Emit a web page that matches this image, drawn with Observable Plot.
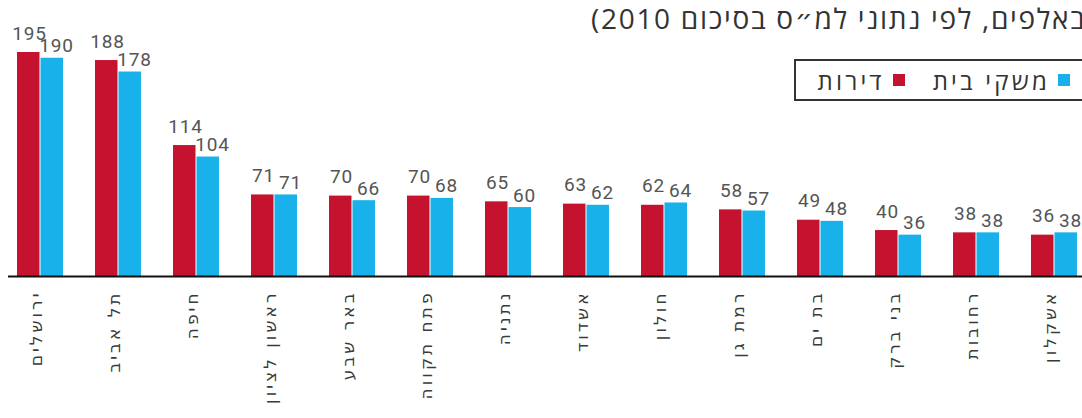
<!DOCTYPE html>
<html>
<head>
<meta charset="utf-8">
<script src="https://cdn.jsdelivr.net/npm/d3@7"></script>
<script src="https://cdn.jsdelivr.net/npm/@observablehq/plot@0.6"></script>
<style>
  html, body { margin: 0; padding: 0; background: #fff; }
  #wrap { position: relative; width: 1082px; height: 418px; overflow: hidden; }
  #subtitle {
    position: absolute; left: 591px; top: -1px; white-space: nowrap; direction: rtl;
    font-family: "Open Sans", "DejaVu Sans", sans-serif; font-size: 28px; letter-spacing: 1.7px; color: #333;
  }
  #legend {
    position: absolute; left: 794px; top: 59px; width: 274px; height: 38px;
    border: 2px solid #333; display: flex; flex-direction: row; direction: rtl;
    align-items: center; padding-right: 30px; padding-left: 0; box-sizing: content-box;
    font-family: "Open Sans", "DejaVu Sans", sans-serif; font-size: 24px; letter-spacing: 3.2px; color: #333;
  }
  #legend .sw { width: 12px; height: 12px; display: inline-block; margin-left: 8px; flex: none; }
  #legend .item { display: flex; align-items: center; margin-left: 28px; white-space: nowrap; }
  #chart { position: absolute; left: 0; top: 0; }
  #chart g[aria-label="x-axis tick label"] text { letter-spacing: 3px; }
  #chart g.vals text { letter-spacing: 0.8px; }
</style>
</head>
<body>
<div id="wrap">
  <div id="chart"></div>
  <div id="subtitle"></div>
  <div id="legend"></div>
</div>
<script>
const cities = ["ירושלים", "תל אביב", "חיפה", "ראשון לציון", "באר שבע", "פתח תקווה", "נתניה", "אשדוד", "חולון", "רמת גן", "בת ים", "בני ברק", "רחובות", "אשקלון"];
const apartments = [195, 188, 114, 71, 70, 70, 65, 63, 62, 58, 49, 40, 38, 36];
const households = [190, 178, 104, 71, 66, 68, 60, 62, 64, 57, 48, 36, 38, 38];
const seriesNames = ["משקי בית", "דירות"];
const seriesColors = ["#18b1e9", "#c5122e"];
const subtitleText = "(באלפים, לפי נתוני למ״ס בסיכום 2010)";

const RED = seriesColors[1], CYAN = seriesColors[0];
const data = cities.map((city, i) => ({city, apartments: apartments[i], households: households[i]}));

const plot = Plot.plot({
  width: 1082,
  height: 418,
  marginTop: 52,
  marginBottom: 142,
  marginLeft: 8,
  marginRight: 0,
  style: {fontFamily: "'DejaVu Sans', sans-serif", background: "transparent"},
  x: {domain: cities, range: [10, 1084], paddingInner: 0.405, paddingOuter: 0, align: 0.5},
  y: {domain: [0, 195], axis: null},
  marks: [
    Plot.barY(data, {x: "city", y: "apartments", fill: RED, insetLeft: 0, insetRight: 23.5}),
    Plot.barY(data, {x: "city", y: "households", fill: CYAN, insetLeft: 23.5, insetRight: 0}),
    Plot.text(data, {x: "city", y: "apartments", text: d => String(d.apartments), dx: -11, dy: -13,
      lineAnchor: "bottom", fontSize: 19, fill: "#555", fontFamily: "Roboto, sans-serif", className: "vals"}),
    Plot.text(data, {x: "city", y: "households", text: d => String(d.households), dx: 16, dy: -6,
      lineAnchor: "bottom", fontSize: 19, fill: "#555", fontFamily: "Roboto, sans-serif", className: "vals"}),
    Plot.ruleY([0], {stroke: "#111", strokeWidth: 2}),
    Plot.axisX({tickRotate: -90, tickSize: 0, tickPadding: 14, fontSize: 17, fill: "#3a3a3a", label: null, dx: -4})
  ]
});
document.getElementById("chart").appendChild(plot);

document.getElementById("subtitle").textContent = subtitleText;

const legend = document.getElementById("legend");
seriesNames.forEach((name, i) => {
  const item = document.createElement("div");
  item.className = "item";
  const sw = document.createElement("span");
  sw.className = "sw";
  sw.style.background = seriesColors[i];
  const label = document.createElement("span");
  label.textContent = name;
  item.appendChild(sw);
  item.appendChild(label);
  legend.appendChild(item);
});
</script>
</body>
</html>
